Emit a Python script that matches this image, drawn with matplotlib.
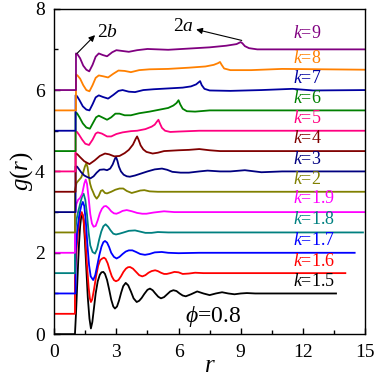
import matplotlib.pyplot as plt
import numpy as np

plt.rcParams['font.family'] = ['Liberation Serif', 'DejaVu Serif']
plt.rcParams['mathtext.fontset'] = 'custom'
plt.rcParams['mathtext.it'] = 'Liberation Serif:italic'
plt.rcParams['mathtext.rm'] = 'Liberation Serif'

# aspect ratios, colours and label rows
k_values = ['1.5', '1.6', '1.7', '1.8', '1.9', '2', '3', '4', '5', '6', '7', '8', '9']
colors = ['#000000', '#ff0000', '#0000ff', '#008080', '#ff00ff', '#808000',
          '#000080', '#800000', '#ff0080', '#008000', '#0000a0', '#ff8000', '#800080']
label_y = [1.29, 1.79, 2.31, 2.82, 3.33, 3.80, 4.29, 4.80, 5.30, 5.79, 6.28, 6.77, 7.39]

# g(r) curves, each shifted up by 0.5 from the one below
r_k15 = [0, 1.0, 1.05, 1.1, 1.15, 1.2, 1.25, 1.3, 1.36, 1.42, 1.48, 1.55, 1.62, 1.7,
         1.77, 1.84, 1.92, 2.0, 2.1, 2.2, 2.28, 2.37, 2.45, 2.55, 2.65, 2.75, 2.85,
         2.93, 3.03, 3.13, 3.23, 3.33, 3.45, 3.57, 3.7, 3.83, 3.98, 4.1, 4.22, 4.35,
         4.5, 4.62, 4.75, 4.88, 5.02, 5.15, 5.3, 5.45, 5.6, 5.75, 5.9, 6.05, 6.2,
         6.35, 6.6, 6.9, 7.2, 7.5, 7.8, 8.1, 8.4, 8.7, 9.0, 9.3, 9.7, 13.6]
g_k15 = [0, 0, 0.5, 1.1, 1.7, 2.25, 2.65, 2.88, 2.95, 2.8, 2.3, 1.6, 0.9, 0.38,
         0.14, 0.3, 0.65, 1.0, 1.3, 1.46, 1.52, 1.53, 1.48, 1.33, 1.1, 0.85, 0.68,
         0.63, 0.68, 0.83, 1.02, 1.18, 1.26, 1.2, 1.05, 0.88, 0.79, 0.82, 0.89, 0.99,
         1.09, 1.12, 1.08, 1.0, 0.92, 0.88, 0.91, 0.98, 1.05, 1.08, 1.06, 1.0, 0.95,
         0.93, 0.98, 1.05, 1.0, 0.96, 1.0, 1.03, 1.0, 0.98, 1.0, 1.01, 1.0, 1.0]

r_k16 = [0, 1.0, 1.0, 1.08, 1.16, 1.24, 1.33, 1.41, 1.5, 1.58, 1.66, 1.72, 1.77,
         1.83, 1.92, 2.02, 2.12, 2.22, 2.32, 2.4, 2.48, 2.58, 2.68, 2.78, 2.88, 2.98,
         3.1, 3.22, 3.34, 3.46, 3.56, 3.66, 3.8, 3.95, 4.1, 4.25, 4.4, 4.55, 4.7,
         4.87, 5.0, 5.15, 5.3, 5.43, 5.6, 5.8, 6.0, 6.2, 6.5, 6.8, 7.2, 14.05]
g_k16 = [0.5, 0.5, 1.4, 2.1, 2.6, 2.9, 3.0, 2.85, 2.35, 1.7, 1.15, 0.88, 0.79,
         0.85, 1.1, 1.42, 1.68, 1.82, 1.86, 1.88, 1.85, 1.74, 1.57, 1.42, 1.33, 1.3,
         1.33, 1.42, 1.53, 1.61, 1.645, 1.65, 1.61, 1.53, 1.45, 1.42, 1.45, 1.51, 1.55,
         1.57, 1.55, 1.51, 1.48, 1.48, 1.5, 1.53, 1.52, 1.48, 1.49, 1.51, 1.5, 1.5]

r_k17 = [0, 1.03, 1.03, 1.1, 1.2, 1.3, 1.38, 1.45, 1.52, 1.6, 1.68, 1.76, 1.88,
         1.98, 2.08, 2.18, 2.28, 2.37, 2.45, 2.55, 2.65, 2.75, 2.88, 3.01, 3.15,
         3.3, 3.45, 3.6, 3.77, 3.95, 4.15, 4.38, 4.6, 4.85, 5.19, 5.5, 6.0, 7.0, 14.5]
g_k17 = [1.0, 1.0, 2.0, 2.5, 2.9, 3.15, 3.25, 3.15, 2.8, 2.2, 1.7, 1.42, 1.33,
         1.45, 1.7, 1.95, 2.15, 2.26, 2.29, 2.25, 2.14, 2.0, 1.9, 1.86, 1.9,
         1.97, 2.03, 2.06, 2.06, 2.02, 1.97, 1.95, 1.97, 2.01, 2.02, 2.0, 1.99, 2.0, 2.0]

r_k18 = [0, 1.0, 1.0, 1.07, 1.15, 1.25, 1.35, 1.42, 1.5, 1.58, 1.66, 1.74, 1.85,
         1.97, 2.07, 2.17, 2.27, 2.37, 2.48, 2.6, 2.72, 2.85, 2.98, 3.15, 3.35,
         3.6, 3.9, 4.15, 4.4, 4.7, 5.0, 5.5, 14.9]
g_k18 = [1.5, 1.5, 2.4, 2.8, 3.0, 3.2, 3.4, 3.45, 3.3, 2.95, 2.5, 2.18, 2.02,
         1.98, 2.1, 2.33, 2.52, 2.65, 2.7, 2.64, 2.55, 2.47, 2.45, 2.47, 2.5,
         2.54, 2.55, 2.52, 2.49, 2.49, 2.51, 2.5, 2.5]

r_k19 = [0, 1.0, 1.0, 1.07, 1.15, 1.25, 1.35, 1.45, 1.52, 1.58, 1.66, 1.74, 1.82,
         1.9, 2.0, 2.1, 2.2, 2.3, 2.4, 2.5, 2.62, 2.75, 2.88, 3.0, 3.15, 3.3, 3.5,
         3.75, 4.0, 4.25, 4.45, 4.8, 5.3, 5.8, 15]
g_k19 = [2.0, 2.0, 2.9, 3.2, 3.3, 3.35, 3.45, 3.7, 3.8, 3.7, 3.35, 2.95, 2.72,
         2.64, 2.66, 2.8, 2.97, 3.08, 3.14, 3.15, 3.1, 3.02, 2.97, 2.96, 2.99, 3.03, 3.05,
         3.02, 2.98, 2.96, 2.96, 2.99, 3.02, 3.0, 3.0]

r_k2 = [0, 1.0, 1.0, 1.08, 1.18, 1.3, 1.4, 1.48, 1.55, 1.61, 1.67, 1.73, 1.8,
        1.87, 1.95, 2.05, 2.15, 2.25, 2.33, 2.45, 2.55, 2.75, 2.95, 3.15, 3.33,
        3.5, 3.74, 3.95, 4.15, 4.35, 4.6, 5.0, 15]
g_k2 = [2.5, 2.5, 3.55, 3.72, 3.78, 3.85, 3.98, 4.12, 4.2, 4.1, 3.88, 3.7, 3.58,
        3.5, 3.4, 3.33, 3.4, 3.52, 3.54, 3.47, 3.46, 3.5, 3.55, 3.58, 3.58,
        3.52, 3.47, 3.5, 3.53, 3.54, 3.51, 3.5, 3.5]

r_k3 = [0, 1.03, 1.03, 1.1, 1.2, 1.3, 1.45, 1.6, 1.75, 1.9, 2.05, 2.2, 2.4, 2.55,
        2.7, 2.82, 2.92, 2.98, 3.05, 3.12, 3.22, 3.35, 3.5, 3.65, 3.9, 4.2, 4.5,
        4.85, 5.2, 5.45, 5.7, 6.1, 6.5, 7.0, 7.4, 8.0, 8.5, 9.2, 10.0, 11.0, 15]
g_k3 = [3.0, 3.0, 4.12, 4.12, 4.05, 3.98, 3.9, 3.86, 3.83, 3.88, 3.97, 4.04, 4.05, 4.03,
        4.07, 4.17, 4.3, 4.36, 4.26, 4.12, 4.0, 3.92, 3.88, 3.87, 3.9, 3.95, 4.0,
        4.05, 4.07, 4.04, 3.99, 3.97, 3.97, 4.0, 4.02, 4.0, 4.0, 4.03, 3.98, 4.0, 4.0]

r_k4 = [0, 1.03, 1.03, 1.12, 1.25, 1.45, 1.7, 1.95, 2.2, 2.45, 2.65, 2.9, 3.15,
        3.4, 3.6, 3.8, 3.93, 4.0, 4.07, 4.17, 4.3, 4.45, 4.75, 5.0, 5.3, 6.0,
        6.5, 7.0, 7.5, 8.0, 15]
g_k4 = [3.5, 3.5, 4.45, 4.42, 4.35, 4.25, 4.18, 4.27, 4.38, 4.44, 4.42, 4.37, 4.38,
        4.45, 4.53, 4.66, 4.8, 4.86, 4.78, 4.64, 4.54, 4.48, 4.44, 4.46, 4.5, 4.52,
        4.53, 4.55, 4.52, 4.5, 4.5]

r_k5 = [0, 1.03, 1.03, 1.1, 1.2, 1.35, 1.5, 1.68, 1.85, 2.0, 2.1, 2.3, 2.55,
        2.75, 3.0, 3.3, 3.7, 4.0, 4.4, 4.7, 4.85, 4.95, 5.03, 5.1, 5.2, 5.35,
        5.6, 6.0, 7.0, 15]
g_k5 = [4.0, 4.0, 4.98, 4.97, 4.9, 4.78, 4.68, 4.65, 4.78, 4.93, 4.96, 4.93, 4.86,
        4.86, 4.92, 4.96, 4.99, 5.0, 5.04, 5.1, 5.15, 5.22, 5.27, 5.18, 5.07, 5.0,
        4.97, 4.98, 5.0, 5.0]

r_k6 = [0, 1.03, 1.03, 1.1, 1.22, 1.38, 1.55, 1.72, 1.88, 2.02, 2.15, 2.35, 2.55,
        2.75, 2.95, 3.15, 3.4, 3.7, 4.1, 4.6, 5.1, 5.5, 5.75, 5.9, 6.0, 6.08,
        6.2, 6.4, 6.8, 7.5, 15]
g_k6 = [4.5, 4.5, 5.45, 5.43, 5.33, 5.18, 5.08, 5.05, 5.2, 5.33, 5.37, 5.32, 5.27,
        5.33, 5.42, 5.42, 5.38, 5.38, 5.43, 5.47, 5.52, 5.56, 5.62, 5.68, 5.75, 5.65,
        5.54, 5.48, 5.47, 5.5, 5.5]

r_k7 = [0, 1.03, 1.03, 1.1, 1.22, 1.38, 1.55, 1.7, 1.85, 2.0, 2.15, 2.35, 2.6,
        2.85, 3.1, 3.3, 3.6, 3.9, 4.3, 4.8, 5.5, 6.2, 6.6, 6.85, 7.04, 7.12,
        7.25, 7.5, 8.5, 10.0, 11.5, 12.5, 15]
g_k7 = [5.0, 5.0, 5.87, 5.85, 5.75, 5.6, 5.52, 5.5, 5.65, 5.82, 5.87, 5.83, 5.79,
        5.88, 5.98, 6.0, 5.96, 5.95, 6.0, 6.02, 6.04, 6.06, 6.09, 6.14, 6.22, 6.12,
        6.03, 5.99, 5.98, 6.0, 6.03, 5.99, 6.0]

r_k8 = [0, 1.05, 1.05, 1.12, 1.25, 1.4, 1.55, 1.7, 1.85, 2.0, 2.15, 2.35, 2.6,
        2.85, 3.1, 3.4, 3.7, 4.1, 4.6, 5.5, 6.5, 7.3, 7.7, 7.9, 8.0, 8.08,
        8.2, 8.5, 9.5, 11.0, 15]
g_k8 = [5.5, 5.5, 6.38, 6.36, 6.28, 6.12, 6.0, 5.97, 6.12, 6.3, 6.36, 6.34, 6.31,
        6.4, 6.48, 6.47, 6.44, 6.49, 6.51, 6.52, 6.55, 6.58, 6.62, 6.66, 6.69, 6.62,
        6.53, 6.49, 6.49, 6.52, 6.5]

r_k9 = [0, 1.05, 1.05, 1.12, 1.25, 1.4, 1.55, 1.69, 1.85, 2.0, 2.15, 2.35, 2.55,
        2.8, 3.0, 3.3, 3.6, 4.0, 4.5, 5.0, 5.5, 6.5, 7.5, 8.3, 8.8, 9.0, 9.08,
        9.2, 9.4, 9.8, 15]
g_k9 = [6.0, 6.0, 6.9, 6.88, 6.78, 6.6, 6.5, 6.46, 6.62, 6.82, 6.9, 6.86, 6.83,
        6.93, 6.98, 6.96, 6.94, 6.98, 7.01, 7.0, 6.99, 7.02, 7.05, 7.09, 7.13, 7.18, 7.15,
        7.08, 7.03, 7.0, 7.0]

r_curves = [r_k15, r_k16, r_k17, r_k18, r_k19, r_k2, r_k3, r_k4, r_k5, r_k6, r_k7, r_k8, r_k9]
g_curves = [g_k15, g_k16, g_k17, g_k18, g_k19, g_k2, g_k3, g_k4, g_k5, g_k6, g_k7, g_k8, g_k9]


def main():
    fig = plt.figure(figsize=(3.74, 3.78), dpi=100)
    ax = fig.add_axes([0.145, 0.116, 0.831, 0.861])

    for r, g, c in zip(r_curves, g_curves, colors):
        ax.plot(r, g, '-', color=c, lw=1.3)

    for k, y, c in zip(k_values, label_y, colors):
        ax.text(11.5, y, '$k$=' + k, color=c, fontsize=13, va='center', ha='left')

    # arrows point from the peak out to the label
    ax.annotate('', xy=(1.97, 7.35), xytext=(1.1, 6.9),
                arrowprops=dict(arrowstyle='-|>', color='black', lw=0.8,
                                mutation_scale=9, shrinkA=0, shrinkB=0))
    ax.text(2.05, 7.42, '2$b$', fontsize=14, va='center', ha='left')
    ax.annotate('', xy=(6.85, 7.49), xytext=(9.05, 7.22),
                arrowprops=dict(arrowstyle='-|>', color='black', lw=0.8,
                                mutation_scale=9, shrinkA=0, shrinkB=0))
    ax.text(6.72, 7.57, '2$a$', fontsize=14, va='center', ha='right')
    ax.text(6.3, 0.43, r'$\phi$=0.8', fontsize=17, va='center', ha='left')

    ax.set_xlim(0, 15)
    ax.set_ylim(0, 8)
    ax.set_xticks(np.arange(0, 16, 3))
    ax.set_xticks(np.arange(1.5, 15, 3), minor=True)
    ax.set_yticks(np.arange(0, 9, 2))
    ax.set_yticks(np.arange(1, 9, 2), minor=True)
    ax.tick_params(which='both', direction='in', labelsize=14, top=False, right=False, pad=7)
    ax.tick_params(which='major', length=4, width=1)
    ax.tick_params(which='minor', length=3, width=1)
    ax.set_xlabel('$r$', fontsize=18, labelpad=-4)
    ax.set_ylabel('$g(r)$', fontsize=18, labelpad=0)
    for s in ax.spines.values():
        s.set_linewidth(1.0)

    fig.savefig('out.png', dpi=100)


if __name__ == "__main__":
    main()
